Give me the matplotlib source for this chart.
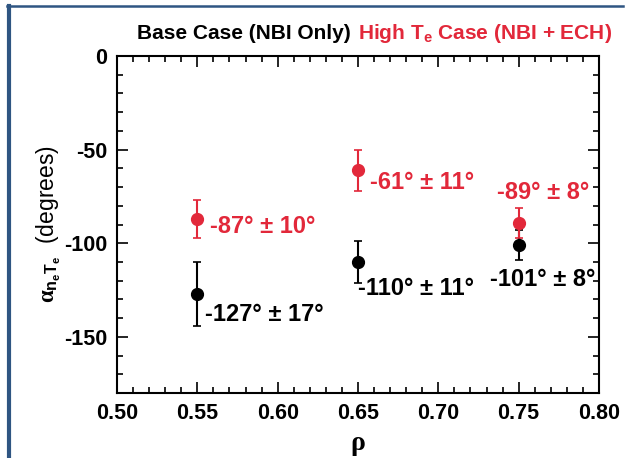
import matplotlib
matplotlib.use('Agg')
import matplotlib.pyplot as plt
from matplotlib.lines import Line2D
from matplotlib.ticker import MultipleLocator

sans = 'Liberation Sans'

plt.rcParams['font.family'] = [sans, 'DejaVu Sans']
plt.rcParams['font.weight'] = 'bold'
plt.rcParams['axes.unicode_minus'] = False
plt.rcParams['mathtext.fontset'] = 'custom'
plt.rcParams['mathtext.it'] = 'Liberation Serif'
plt.rcParams['mathtext.rm'] = sans + ':bold'
plt.rcParams['mathtext.bf'] = sans + ':bold'

# data
rho = [0.55, 0.65, 0.75]
base_alpha = [-127, -110, -101]
base_err = [17, 11, 8]
high_alpha = [-87, -61, -89]
high_err = [10, 11, 8]
base_labels = ['-127° ± 17°', '-110° ± 11°', '-101° ± 8°']
high_labels = ['-87° ± 10°', '-61° ± 11°', '-89° ± 8°']

red = '#e2283a'

fig = plt.figure(figsize=(6.26, 4.58), dpi=100)
ax = fig.add_axes([117/626, 1-393/458, 482/626, 337/458])

ax.errorbar(rho, base_alpha, yerr=base_err, fmt='o', color='black', ms=8.5,
            elinewidth=1.5, capsize=3, capthick=1.2)
ax.errorbar(rho, high_alpha, yerr=high_err, fmt='o', color=red, ms=8.5,
            elinewidth=1.5, capsize=3, capthick=1.2)

# label offsets in pixels from each point
base_off = [(8, -21, 'left'), (0, -27, 'left'), (24, -34, 'center')]
high_off = [(13, -8, 'left'), (12, -12, 'left'), (24, 30, 'center')]
for x, y, s, (dx, dy, ha) in zip(rho, base_alpha, base_labels, base_off):
    ax.annotate(s, (x, y), xytext=(dx, dy), textcoords='offset pixels',
                ha=ha, va='center', fontsize=17, color='black')
for x, y, s, (dx, dy, ha) in zip(rho, high_alpha, high_labels, high_off):
    ax.annotate(s, (x, y), xytext=(dx, dy), textcoords='offset pixels',
                ha=ha, va='center', fontsize=17, color=red)

ax.set_xlim(0.50, 0.80)
ax.set_ylim(-180, 0)
ax.xaxis.set_major_locator(MultipleLocator(0.05))
ax.xaxis.set_minor_locator(MultipleLocator(0.01))
ax.yaxis.set_major_locator(MultipleLocator(50))
ax.yaxis.set_minor_locator(MultipleLocator(10))
ax.set_xticks(ax.get_xticks())
ax.set_xticklabels([f'{v:.2f}' for v in ax.get_xticks()])
ax.set_xlim(0.50, 0.80)
ax.tick_params(which='both', direction='in', top=True, right=True, width=1.2,
               labelsize=15.5, pad=7)
ax.tick_params(which='major', length=8)
ax.tick_params(which='minor', length=4)
for sp in ax.spines.values():
    sp.set_linewidth(1.5)

ax.set_xlabel(r'$\rho$', fontsize=20, fontweight='normal')
ax.xaxis.set_label_coords(0.5, -0.115)
ax.set_ylabel(r'$\alpha_{\mathbf{n_eT_e}}$  (degrees)', fontsize=16.5)
ax.yaxis.set_label_coords(-0.112, 0.5)

# two-coloured title, red part placed right after the black part
t1 = fig.text(137/626, 1-39/458, 'Base Case (NBI Only)', fontsize=15, color='black',
              va='baseline', ha='left')
fig.canvas.draw()
bb = t1.get_window_extent()
fig.text((bb.x1 + 7)/626, 1-39/458, r'High $\mathbf{T_e}$ Case (NBI + ECH)', fontsize=15,
         color=red, va='baseline', ha='left')

# blue frame at the top and left edge
blue = '#2f5582'
fig.add_artist(Line2D([7/626, 623/626], [1-6/458, 1-6/458], transform=fig.transFigure,
                      color=blue, lw=1.8))
fig.add_artist(Line2D([9/626, 9/626], [1-6/458, 0], transform=fig.transFigure,
                      color=blue, lw=3))

fig.savefig('out.png', dpi=100)
